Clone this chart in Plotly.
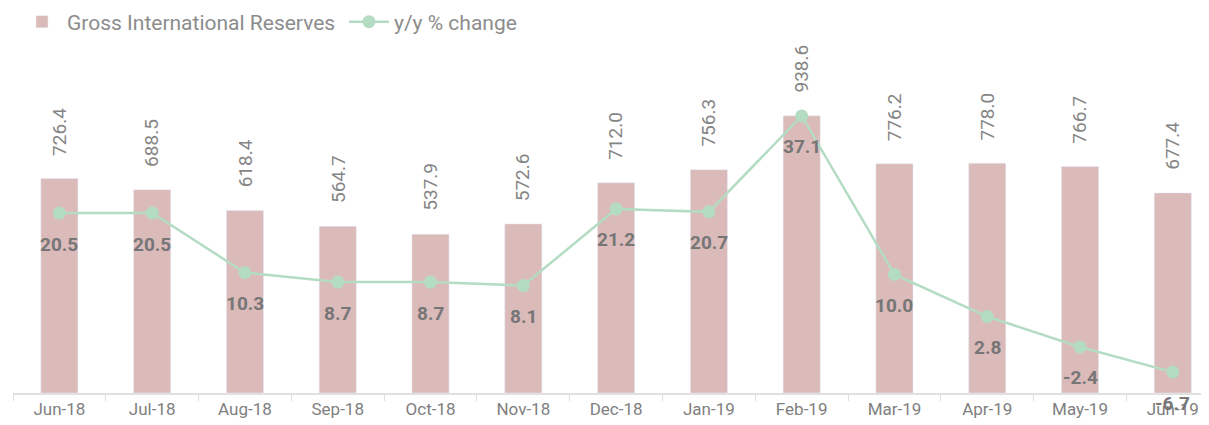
import plotly.graph_objects as go

# data
months = ["Jun-18", "Jul-18", "Aug-18", "Sep-18", "Oct-18", "Nov-18", "Dec-18",
          "Jan-19", "Feb-19", "Mar-19", "Apr-19", "May-19", "Jun-19"]
reserves = [726.4, 688.5, 618.4, 564.7, 537.9, 572.6, 712.0,
            756.3, 938.6, 776.2, 778.0, 766.7, 677.4]
yoy_change = [20.5, 20.5, 10.3, 8.7, 8.7, 8.1, 21.2,
              20.7, 37.1, 10.0, 2.8, -2.4, -6.7]

bar_color = "#dbbaba"
line_color = "#b3dcc3"
label_gray = "#858585"
font_family = "Roboto, sans-serif"

# the page has an 8px body margin, so the figure is drawn 8px smaller
W, H = 1201, 417

fig = go.Figure()

fig.add_trace(go.Bar(
    x=months, y=reserves,
    name="Gross International Reserves",
    marker=dict(color=bar_color),
    width=0.4,
    yaxis="y",
))

fig.add_trace(go.Scatter(
    x=months, y=yoy_change,
    name="y/y % change",
    mode="lines+markers",
    line=dict(color=line_color, width=2.5),
    marker=dict(color=line_color, size=13),
    yaxis="y2",
))

# rotated value labels above the bars
for m, v in zip(months, reserves):
    fig.add_annotation(
        x=m, y=v, xref="x", yref="y",
        text=f"{v:.1f}", textangle=-90,
        showarrow=False, yanchor="bottom", yshift=21,
        font=dict(size=19, color=label_gray, family=font_family),
    )

# bold labels below the line points
for m, v in zip(months, yoy_change):
    fig.add_annotation(
        x=m, y=v, xref="x", yref="y2",
        text=f"<b>{v:.1f}</b>", showarrow=False,
        yanchor="middle", yshift=-31,
        font=dict(size=19, color="#767676", family=font_family),
    )

fig.update_layout(
    width=W, height=H,
    margin=dict(l=5, r=0, t=32, b=32),
    plot_bgcolor="white", paper_bgcolor="white",
    font=dict(family=font_family, color=label_gray),
    showlegend=True,
    legend=dict(
        orientation="h", x=9 / W, y=1 - 14 / H, xref="container", yref="container",
        xanchor="left", yanchor="middle",
        font=dict(size=21, color="#8c8c8c", family=font_family),
        itemwidth=40, entrywidth=272, entrywidthmode="pixels",
    ),
    xaxis=dict(
        type="category",
        range=[-0.5, 12.39],
        showgrid=False,
        showline=True, linecolor="#e0e0e0", linewidth=2,
        ticks="outside", tickson="boundaries", tickcolor="#e0e0e0", ticklen=6,
        tickfont=dict(size=17, color="#808080"),
    ),
    yaxis=dict(
        range=[0, 1187], visible=False, showgrid=False,
    ),
    yaxis2=dict(
        range=[-10.27, 49.66], overlaying="y", visible=False, showgrid=False,
    ),
    bargap=0.6,
)

fig.write_html("out.html")
